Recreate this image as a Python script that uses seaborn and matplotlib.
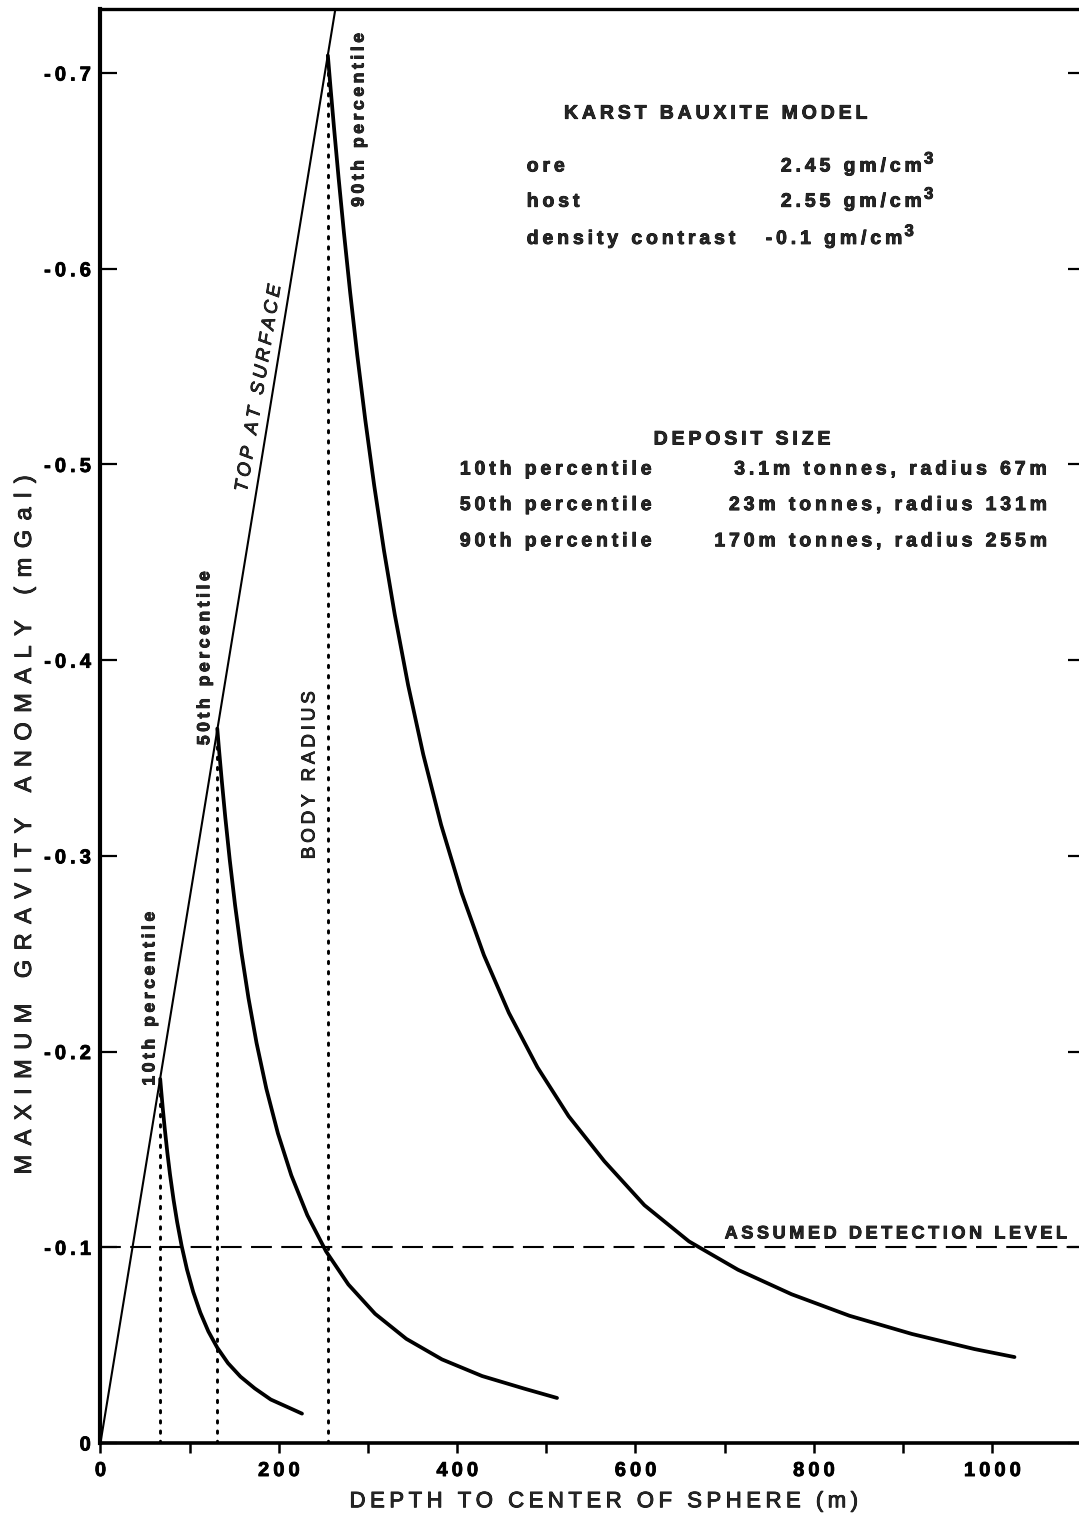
import matplotlib
matplotlib.use("Agg")
import matplotlib.pyplot as plt
import matplotlib.patheffects as pe
from matplotlib.text import Text
import numpy as np
import pandas as pd
import seaborn as sns

# ---------------- data ----------------
depth_p10 = [67, 68, 70, 72, 75, 78, 82, 86, 91, 97, 104, 112, 121, 131, 143, 157,
             173, 191, 210, 226]
anom_p10 = [-0.186, -0.1806, -0.1704, -0.1611, -0.1484, -0.1372, -0.1242, -0.1129,
            -0.1008, -0.0887, -0.0772, -0.0666, -0.0570, -0.0487, -0.0408, -0.0339,
            -0.0279, -0.0222, -0.0183, -0.0150]

depth_p50 = [131, 133, 136, 140, 145, 151, 158, 166, 175, 186, 199, 214, 232, 253,
             278, 308, 343, 383, 428, 475, 512]
anom_p50 = [-0.365, -0.3541, -0.3387, -0.3196, -0.2979, -0.2747, -0.2509, -0.2273,
            -0.2045, -0.1811, -0.1582, -0.1368, -0.1164, -0.0979, -0.0810, -0.0660,
            -0.0532, -0.0427, -0.0342, -0.0278, -0.0230]

depth_p90 = [255, 258, 262, 267, 273, 280, 288, 297, 307, 318, 330, 345, 362, 382,
             405, 430, 458, 490, 525, 565, 610, 660, 715, 775, 840, 910, 980, 1025]
anom_p90 = [-0.709, -0.6926, -0.6716, -0.6467, -0.6186, -0.5880, -0.5558, -0.5227,
            -0.4892, -0.4559, -0.4234, -0.3873, -0.3518, -0.3159, -0.2811, -0.2493,
            -0.2198, -0.1920, -0.1670, -0.1440, -0.1215, -0.1030, -0.0885, -0.0760,
            -0.0650, -0.0557, -0.0480, -0.0439]

surface_depth = [0, 270]
surface_anom = [0.0, -0.751]

body_radius = [67, 131, 255]
peak_anom = [-0.186, -0.365, -0.709]

detection_level = -0.1

x_ticks = [0, 200, 400, 600, 800, 1000]
x_tick_labels = ["0", "200", "400", "600", "800", "1000"]
x_minor_ticks = [100, 300, 500, 700, 900]
y_ticks = [0, -0.1, -0.2, -0.3, -0.4, -0.5, -0.6, -0.7]
y_tick_labels = ["0", "-0.1", "-0.2", "-0.3", "-0.4", "-0.5", "-0.6", "-0.7"]

model_rows = ["ore", "host", "density contrast"]
model_values = ["2.45 gm/cm", "2.55 gm/cm", "-0.1 gm/cm"]
size_rows = ["10th percentile", "50th percentile", "90th percentile"]
size_values = ["3.1m tonnes, radius 67m", "23m tonnes, radius 131m",
               "170m tonnes, radius 255m"]

# ---------------- style ----------------
sns.set_theme(style="ticks")
FAM = ["Liberation Sans", "DejaVu Sans"]
plt.rcParams["font.family"] = FAM
plt.rcParams["axes.unicode_minus"] = False
TS = "\u2009"


def track(s, n=1):
    return (TS * n).join(s)


fig = plt.figure(figsize=(10.79, 15.21), dpi=100)
ax = fig.add_axes([0.0931, 0.0513, 0.9124, 0.9426])

df = pd.concat([
    pd.DataFrame({"depth": depth_p10, "anom": anom_p10, "series": "p10"}),
    pd.DataFrame({"depth": depth_p50, "anom": anom_p50, "series": "p50"}),
    pd.DataFrame({"depth": depth_p90, "anom": anom_p90, "series": "p90"}),
])
sns.lineplot(data=df, x="depth", y="anom", units="series", estimator=None,
             sort=False, color="black", lw=2.7, ax=ax)
sns.lineplot(x=surface_depth, y=surface_anom, color="black", lw=1.5, ax=ax)

for r, p in zip(body_radius, peak_anom):
    ax.plot([r, r], [0, p], color="black", lw=2.1, ls=(0, (0.8, 2.7)),
            dash_capstyle="round")

ax.axhline(detection_level, color="black", lw=1.5, ls=(0, (10, 4.5)))

ax.set_xlim(0, 1104)
ax.set_ylim(0, -0.7326)

ax.set_xticks(x_ticks)
ax.set_xticklabels([track(t) for t in x_tick_labels])
ax.set_xticks(x_minor_ticks, minor=True)
ax.set_yticks(y_ticks)
ax.set_yticklabels([track(t) for t in y_tick_labels])

for lab in ax.get_xticklabels() + ax.get_yticklabels():
    lab.set_fontweight("bold")
    lab.set_fontsize(14.5)
    lab.set_family(FAM)

ax.tick_params(axis="y", which="major", direction="in", length=12, width=1.6,
               left=True, right=True, pad=7, colors="black")
ax.tick_params(axis="x", which="both", direction="out", length=7, width=1.8,
               bottom=True, top=False, pad=6, colors="black")

for side, w in [("left", 3.0), ("top", 2.4), ("bottom", 2.6), ("right", 2.4)]:
    ax.spines[side].set_linewidth(w)
    ax.spines[side].set_color("black")

ax.set_xlabel(track("DEPTH TO CENTER OF SPHERE (m)"), fontsize=16, va="center")
ax.xaxis.set_label_coords(0.5124, -0.041)
ax.set_ylabel(track("MAXIMUM GRAVITY ANOMALY (mGal)", 2), fontsize=17, va="center")
ax.yaxis.set_label_coords(-0.0767, 0.4317)

# ---------------- annotations ----------------
BOLD = dict(fontsize=14, fontweight="bold")
ax.text(690, -0.679, track("KARST BAUXITE MODEL"), ha="center", va="center", **BOLD)
model_y = [-0.652, -0.634, -0.615]
model_vx = [763, 763, 746]
for lab, val, y, vx in zip(model_rows, model_values, model_y, model_vx):
    ax.text(478, y, track(lab), ha="left", va="center", **BOLD)
    t = ax.text(vx, y, track(val), ha="left", va="center", **BOLD)
    ax.annotate("3", xy=(1.0, 1.0), xycoords=t, xytext=(1.5, 5),
                textcoords="offset points", ha="left", va="top",
                fontsize=12, fontweight="bold")

ax.text(719.6, -0.5125, track("DEPOSIT SIZE"), ha="center", va="center", **BOLD)
size_y = [-0.4972, -0.479, -0.4605]
for lab, val, y in zip(size_rows, size_values, size_y):
    ax.text(403, y, track(lab), ha="left", va="center", **BOLD)
    ax.text(1062, y, track(val), ha="right", va="center", **BOLD)

ROT = dict(rotation=90, ha="center", va="center", fontsize=12.7, fontweight="bold")
ax.text(290, -0.676, track("90th percentile"), **ROT)
ax.text(117, -0.401, track("50th percentile"), **ROT)
ax.text(55.5, -0.227, track("10th percentile"), **ROT)
ax.text(234.9, -0.341, track("BODY RADIUS"), rotation=90, ha="center",
        va="center", fontsize=13.6)
ax.text(178, -0.539, track("TOP AT SURFACE"), rotation=80.7, ha="center",
        va="center", fontsize=13.4, style="italic")
ax.text(700, -0.1045, track("ASSUMED DETECTION LEVEL"), ha="left",
        va="baseline", fontsize=13, fontweight="bold")

# thicken glyphs slightly, like the printed original
for t in fig.findobj(Text):
    if t.get_text():
        t.set_path_effects([pe.withStroke(linewidth=0.6, foreground="black")])

fig.savefig("out.png", dpi=100, facecolor="white")
